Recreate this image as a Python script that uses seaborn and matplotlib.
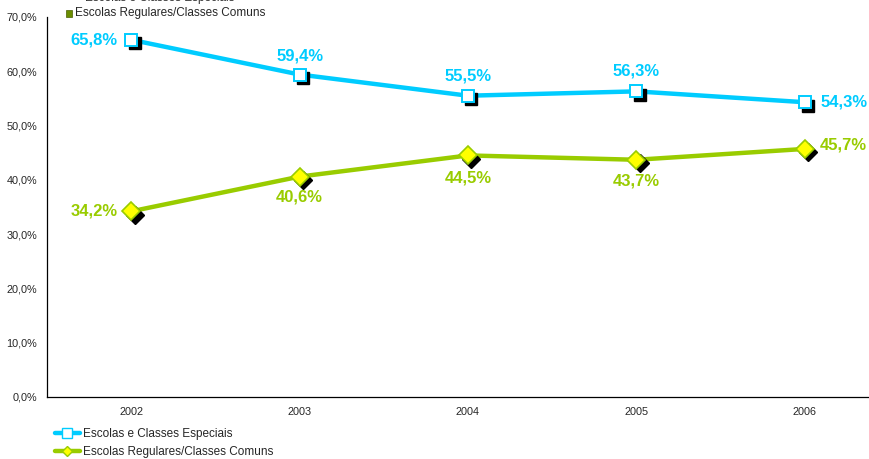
import numpy as np
import pandas as pd
import seaborn as sns
import matplotlib
matplotlib.use("Agg")
import matplotlib.pyplot as plt
import matplotlib.transforms as mtransforms
from matplotlib.lines import Line2D
from matplotlib.patches import Rectangle

years = ["2002", "2003", "2004", "2005", "2006"]
especiais = [65.8, 59.4, 55.5, 56.3, 54.3]
regulares = [34.2, 40.6, 44.5, 43.7, 45.7]
series_names = ["Escolas e Classes Especiais", "Escolas Regulares/Classes Comuns"]
y_ticks = [0, 10, 20, 30, 40, 50, 60, 70]

CYAN = "#00CCFF"
GREEN = "#99CC00"
YELLOW = "#FFFF00"

sns.set_style("white")
plt.rcParams["font.family"] = ["Liberation Sans", "DejaVu Sans"]

fig = plt.figure(figsize=(8.7, 4.59), dpi=100)
ax = fig.add_axes([47 / 870, 62 / 459, 842 / 870, 380 / 459])

df = pd.DataFrame({
    "ano": years * 2,
    "valor": especiais + regulares,
    "serie": [series_names[0]] * 5 + [series_names[1]] * 5,
})
df["x"] = list(range(len(years))) * 2

sns.lineplot(data=df, x="x", y="valor", hue="serie",
             palette={series_names[0]: CYAN, series_names[1]: GREEN},
             linewidth=3.2, legend=False, ax=ax, zorder=2)

xs = np.arange(len(years))
shadow = mtransforms.offset_copy(ax.transData, fig=fig, x=2.4, y=-2.4, units="points")
# shadows
ax.plot(xs, especiais, linestyle="none", marker="s", markersize=9,
        color="black", transform=shadow, zorder=3)
ax.plot(xs, regulares, linestyle="none", marker="D", markersize=9,
        color="black", transform=shadow, zorder=3)
# markers
ax.plot(xs, especiais, linestyle="none", marker="s", markersize=9,
        markerfacecolor="white", markeredgecolor=CYAN, markeredgewidth=1.4, zorder=4)
ax.plot(xs, regulares, linestyle="none", marker="D", markersize=9,
        markerfacecolor=YELLOW, markeredgecolor=GREEN, markeredgewidth=1.2, zorder=4)

lab_kw = dict(textcoords="offset points", fontsize=12, fontweight="bold", va="center")
esp_off = [(-10, 0, "right"), (0, 13.5, "center"), (0, 14, "center"), (0, 14.5, "center"), (11, 0, "left")]
reg_off = [(-10, 0, "right"), (0, -15, "center"), (0, -16, "center"), (0, -15, "center"), (11, 3, "left")]
for i in range(len(years)):
    dx, dy, ha = esp_off[i]
    ax.annotate(f"{especiais[i]:.1f}%".replace(".", ","), (xs[i], especiais[i]),
                xytext=(dx, dy), ha=ha, color=CYAN, **lab_kw)
    dx, dy, ha = reg_off[i]
    ax.annotate(f"{regulares[i]:.1f}%".replace(".", ","), (xs[i], regulares[i]),
                xytext=(dx, dy), ha=ha, color=GREEN, **lab_kw)

ax.set_xlim(-0.5, len(years) - 0.5)
ax.set_ylim(0, 70)
ax.set_yticks(y_ticks)
ax.set_yticklabels([f"{v:.1f}%".replace(".", ",") for v in y_ticks], fontsize=7.8)
ax.set_xticks(xs)
ax.set_xticklabels(years, fontsize=7.8)
ax.set_xticks(np.arange(len(years) + 1) - 0.5, minor=True)
ax.tick_params(axis="x", which="major", length=0, pad=7)
ax.tick_params(axis="x", which="minor", length=4, width=0.8, color="black", direction="out")
ax.tick_params(axis="y", which="major", length=4, width=0.8, color="black", direction="out", pad=3)
ax.set_xlabel("")
ax.set_ylabel("")
for s in ["top", "right"]:
    ax.spines[s].set_visible(False)
for s in ["left", "bottom"]:
    ax.spines[s].set_color("black")
    ax.spines[s].set_linewidth(0.9)
ax.grid(False)

handles = [
    Line2D([], [], color=CYAN, linewidth=3.2, marker="s", markersize=7,
           markerfacecolor="white", markeredgecolor=CYAN),
    Line2D([], [], color=GREEN, linewidth=3.2, marker="D", markersize=5,
           markerfacecolor=YELLOW, markeredgecolor=GREEN),
]
fig.legend(handles, series_names, loc="upper left", bbox_to_anchor=(55 / 870, 1 - 428 / 459),
           frameon=False, fontsize=8.5, handlelength=2.1, handletextpad=0.25,
           labelspacing=0.5, borderpad=0, borderaxespad=0)

# clipped top legend remnant
fig.text(85 / 870, 1 + 2.5 / 459, series_names[0], fontsize=8.5, va="center", ha="left", color="#333333")
fig.add_artist(Rectangle((66 / 870, 1 - 17 / 459), 6 / 870, 7 / 459, transform=fig.transFigure,
                         facecolor="#6B8E00", edgecolor="#4A6000", linewidth=0.5))
fig.text(75 / 870, 1 - 13 / 459, series_names[1], fontsize=8.5, va="center", ha="left")

fig.savefig("out.png", dpi=100)
